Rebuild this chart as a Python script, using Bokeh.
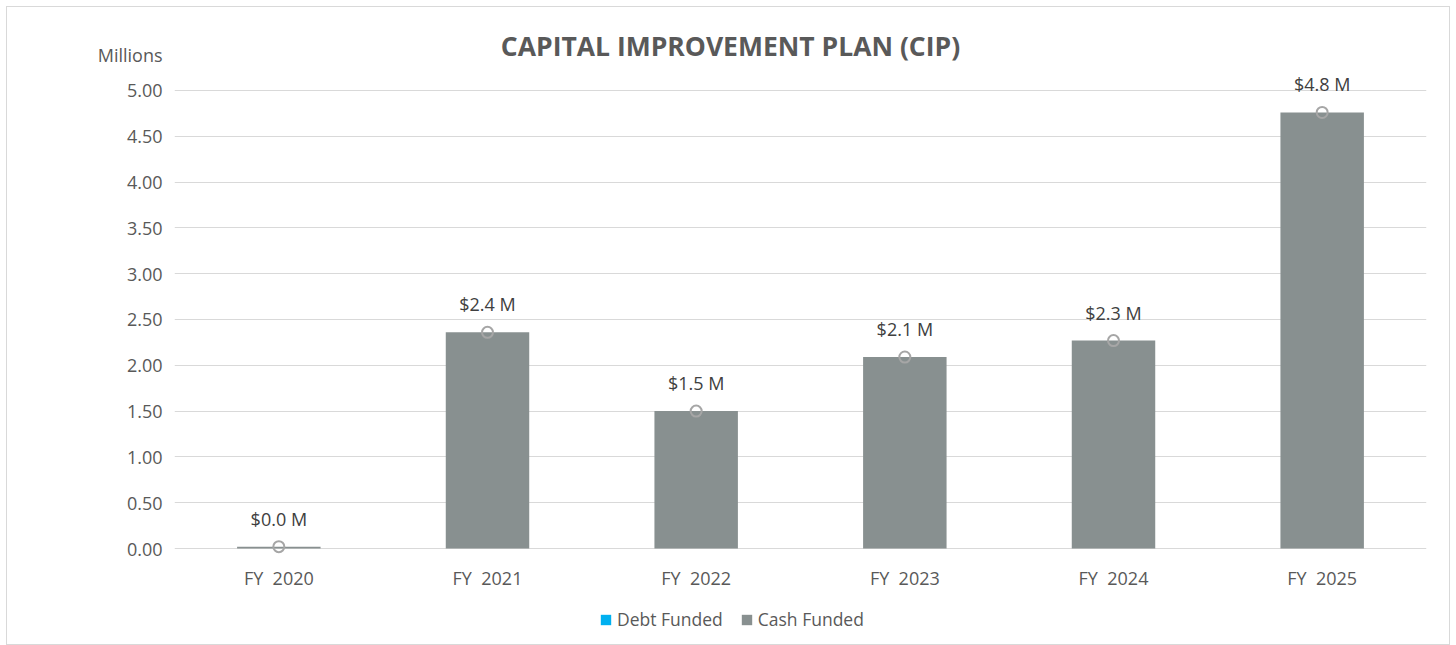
from bokeh.plotting import figure
from bokeh.models import (Range1d, FixedTicker, NumeralTickFormatter, Label, Legend,
                          LegendItem, ColumnDataSource)
from bokeh.core.properties import value
from bokeh.embed import file_html
from bokeh.resources import INLINE

categories = ["FY\u00a0\u00a02020", "FY\u00a0\u00a02021", "FY\u00a0\u00a02022",
              "FY\u00a0\u00a02023", "FY\u00a0\u00a02024", "FY\u00a0\u00a02025"]
debt_funded = [0.0, 0.0, 0.0, 0.0, 0.0, 0.0]
cash_funded = [0.02, 2.36, 1.50, 2.09, 2.27, 4.76]
total_labels = ["$0.0 M", "$2.4 M", "$1.5 M", "$2.1 M", "$2.3 M", "$4.8 M"]
y_ticks = [0, 0.5, 1.0, 1.5, 2.0, 2.5, 3.0, 3.5, 4.0, 4.5, 5.0]
unit_label = "Millions"

FONT = "Open Sans"
TXT = "#595959"
UNIT_POS = 5.382  # vertical place of the unit caption, in axis units

totals = [d + c for d, c in zip(debt_funded, cash_funded)]
src = ColumnDataSource(dict(cat=categories, debt=debt_funded, cash=cash_funded,
                            total=totals, lab=total_labels))

p = figure(x_range=categories, y_range=Range1d(-1.015, 5.731), width=1444, height=639,
           output_backend="svg", toolbar_location=None, title=None,
           min_border_left=167, min_border_right=25, min_border_top=16, min_border_bottom=5)
p.margin = (6, 0, 0, 6)
p.styles = {"border": "1px solid #d9d9d9", "box-sizing": "border-box"}
p.outline_line_color = None
p.background_fill_color = "white"

bars = p.vbar_stack(["debt", "cash"], x="cat", width=0.4, source=src,
                    color=["#00B0F0", "#889090"], line_color=None)

p.scatter(x="cat", y="total", source=src, marker="circle", size=11,
          fill_color=None, line_color="#A6A6A6", line_width=2)
p.text(x="cat", y="total", text="lab", source=src, text_align="center",
       text_baseline="bottom", y_offset=-16, text_font=value(FONT),
       text_font_size="18px", text_color="#404040")

p.xgrid.grid_line_color = None
p.ygrid.ticker = FixedTicker(ticks=y_ticks)
p.ygrid.grid_line_color = "#d9d9d9"
p.ygrid.grid_line_width = 1
p.yaxis.ticker = FixedTicker(ticks=y_ticks + [UNIT_POS])
p.yaxis.formatter = NumeralTickFormatter(format="0.00")
p.yaxis.major_label_overrides = {UNIT_POS: unit_label}
p.xaxis.fixed_location = 0

for ax in (p.xaxis[0], p.yaxis[0]):
    ax.axis_line_color = None
    ax.major_tick_line_color = None
    ax.minor_tick_line_color = None
    ax.major_tick_out = 0
    ax.major_tick_in = 0
    ax.major_label_text_font = FONT
    ax.major_label_text_font_size = "18px"
    ax.major_label_text_color = TXT
p.yaxis[0].major_label_standoff = 12
p.xaxis[0].major_label_standoff = 17

p.add_layout(Label(x=556, y=596, x_units="screen", y_units="screen",
                   text="CAPITAL IMPROVEMENT PLAN (CIP)", text_align="center",
                   text_baseline="middle", text_font=FONT, text_font_size="26.5px",
                   text_font_style="bold", text_color=TXT))

legend = Legend(items=[LegendItem(label="Debt Funded", renderers=[bars[0]]),
                       LegendItem(label="Cash Funded", renderers=[bars[1]])],
                orientation="horizontal", location=(425, 10),
                glyph_width=13, glyph_height=13, label_standoff=5, spacing=17,
                padding=0, margin=0, border_line_color=None,
                background_fill_alpha=0, label_text_font=FONT,
                label_text_font_size="17.5px", label_text_color=TXT)
p.add_layout(legend, "center")

open("out.html", "w").write(file_html(p, INLINE))
